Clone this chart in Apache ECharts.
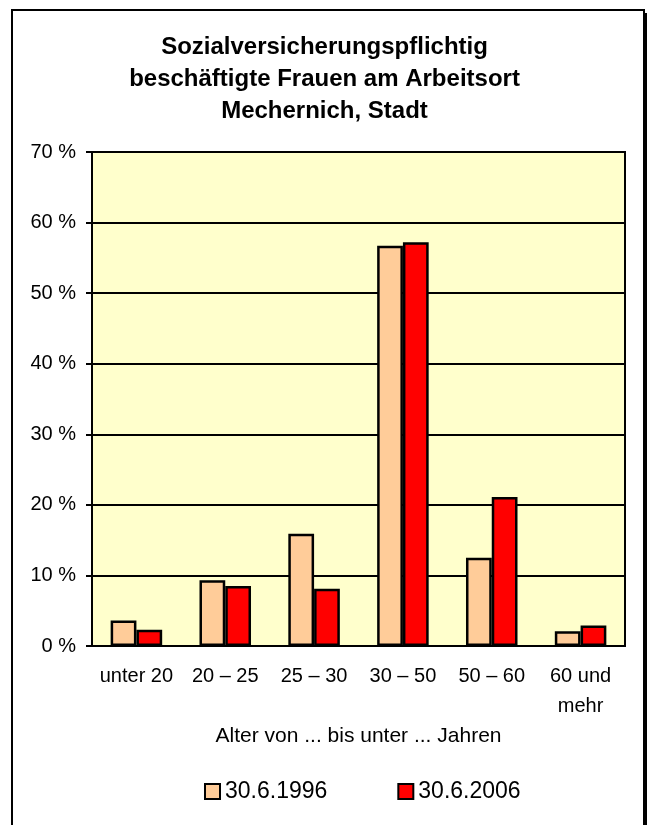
<!DOCTYPE html>
<html>
<head>
<meta charset="utf-8">
<script src="https://cdn.jsdelivr.net/npm/echarts@6/dist/echarts.min.js"></script>
<style>
html,body{margin:0;padding:0;background:#fff;}
#c{width:649px;height:825px;}
</style>
</head>
<body>
<div id="c"></div>
<script>
const categories = ['unter 20', '20 – 25', '25 – 30', '30 – 50', '50 – 60', '60 und\nmehr'];
const series1996 = [3.6, 9.3, 15.9, 56.7, 12.5, 2.1];
const series2006 = [2.3, 8.5, 8.1, 57.2, 21.1, 2.9];
const seriesNames = ['30.6.1996', '30.6.2006'];
const titleText = 'Sozialversicherungspflichtig\nbeschäftigte Frauen am Arbeitsort\nMechernich, Stadt';
const xAxisName = 'Alter von ... bis unter ... Jahren';

const font = '"Liberation Sans", Arial, sans-serif';
const chart = echarts.init(document.getElementById('c'), null, {renderer: 'canvas'});
chart.setOption({
  animation: false,
  backgroundColor: '#fff',
  graphic: [
    {type: 'rect', shape: {x: 12, y: 10, width: 632, height: 840}, style: {fill: 'none', stroke: '#000', lineWidth: 2}, z: 100},
    {type: 'rect', shape: {x: 644, y: 13, width: 3, height: 840}, style: {fill: '#000'}, z: 100}
  ],
  title: {
    text: titleText,
    left: 'center',
    top: 26,
    textStyle: {fontFamily: font, fontSize: 24, fontWeight: 'bold', color: '#000', lineHeight: 32}
  },
  legend: {
    data: seriesNames,
    left: 199,
    top: 775,
    itemWidth: 15,
    itemHeight: 15,
    itemGap: 70,
    icon: 'rect',
    textStyle: {fontFamily: font, fontSize: 23, color: '#000'},
    itemStyle: {borderColor: '#000', borderWidth: 2}
  },
  grid: {
    left: 92, right: 24, top: 152, bottom: 179,
    show: true, backgroundColor: '#FFFFCC', borderColor: '#000', borderWidth: 2,
    containLabel: false
  },
  xAxis: {
    type: 'category',
    data: categories,
    name: xAxisName,
    nameLocation: 'middle',
    nameGap: 67,
    nameTextStyle: {fontFamily: font, fontSize: 21, color: '#000'},
    axisLine: {show: true, lineStyle: {color: '#000', width: 2}},
    axisTick: {show: false},
    axisLabel: {fontFamily: font, fontSize: 20, color: '#000', lineHeight: 30, margin: 15, interval: 0}
  },
  yAxis: {
    type: 'value',
    min: 0, max: 70, interval: 10,
    axisLine: {show: true, lineStyle: {color: '#000', width: 2}},
    axisTick: {show: true, length: 6, lineStyle: {color: '#000', width: 2}},
    axisLabel: {fontFamily: font, fontSize: 20, color: '#000', margin: 16, formatter: '{value} %'},
    splitLine: {show: true, lineStyle: {color: '#000', width: 2}}
  },
  series: [
    {name: seriesNames[0], type: 'bar', data: series1996, barGap: '0%', barCategoryGap: '42%',
     itemStyle: {color: '#FFCC99', borderColor: '#000', borderWidth: 2.5}},
    {name: seriesNames[1], type: 'bar', data: series2006, barGap: '0%', barCategoryGap: '42%',
     itemStyle: {color: '#FF0000', borderColor: '#000', borderWidth: 2.5}}
  ]
});
</script>
</body>
</html>
